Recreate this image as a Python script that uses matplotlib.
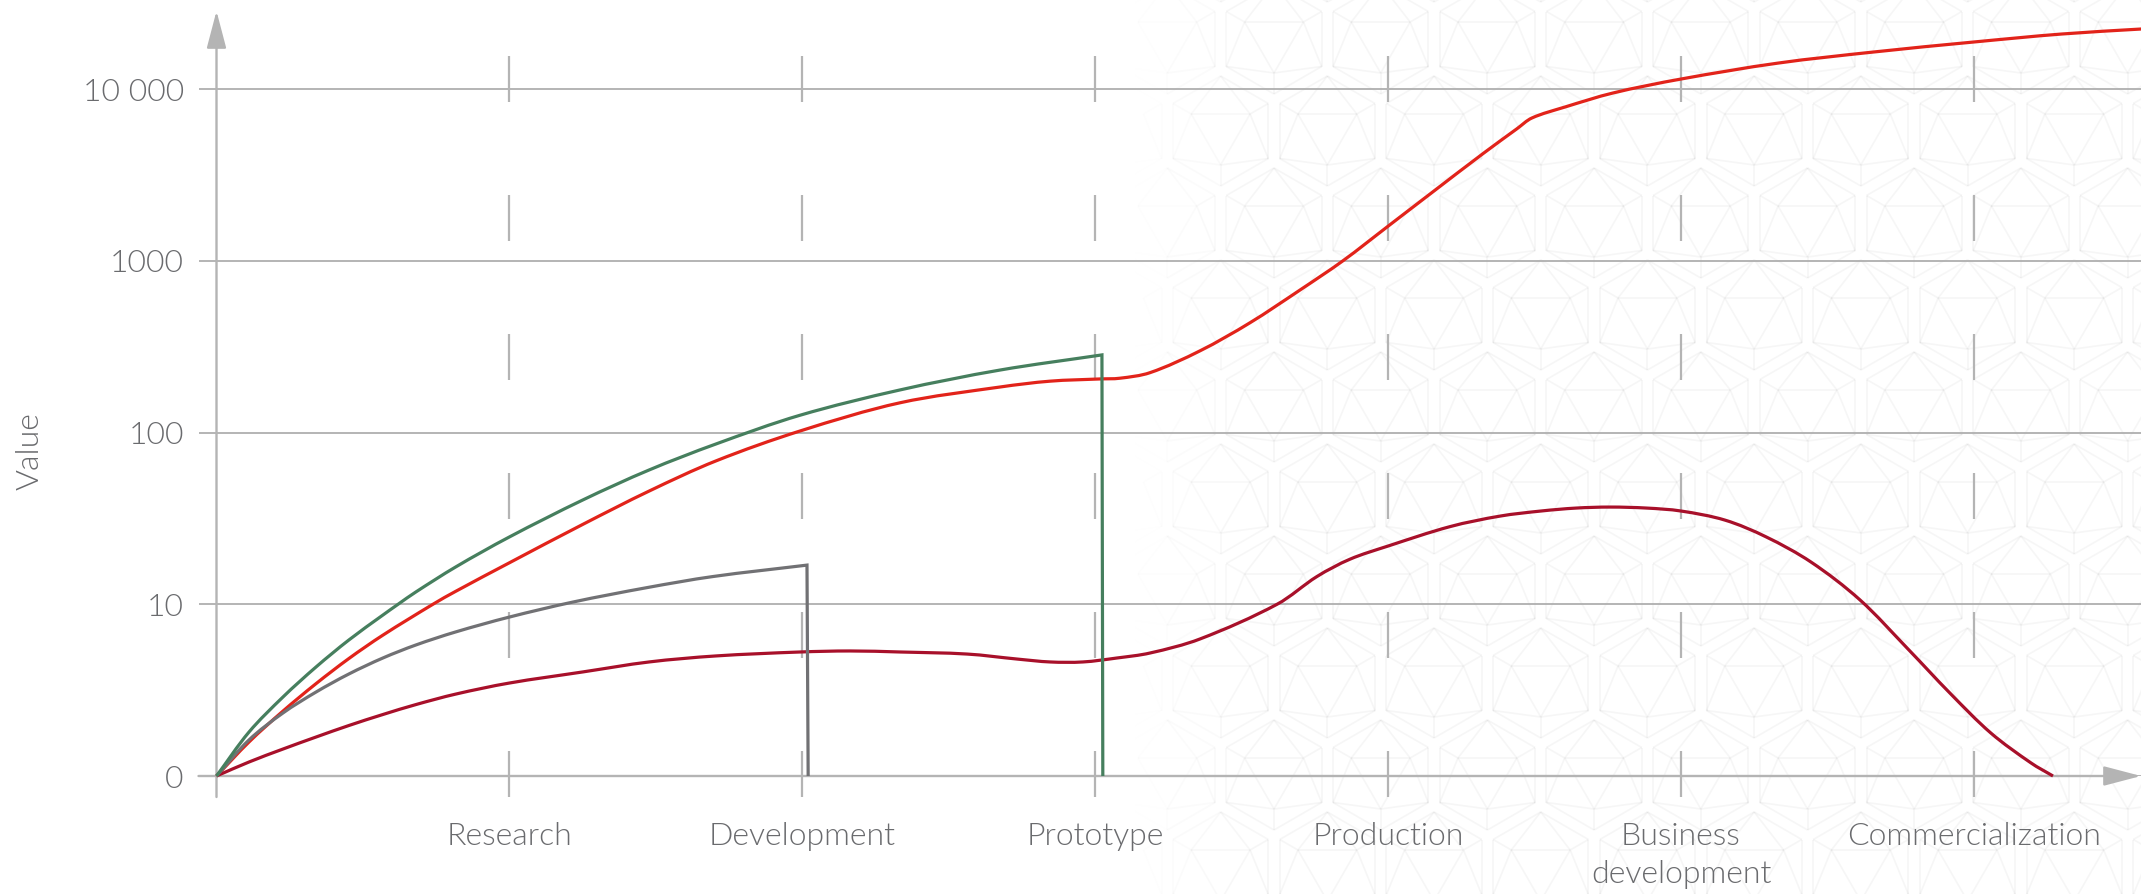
"""Technology readiness curves across development stages (log-like value axis)."""

import numpy as np
import matplotlib

matplotlib.use("Agg")
import matplotlib.pyplot as plt
from matplotlib import font_manager as fm
from matplotlib.collections import LineCollection
from matplotlib.patches import Rectangle, PathPatch
from matplotlib.path import Path
from matplotlib.ticker import NullLocator

# ---- data -------------------------------------------------------------
stages = ["Research", "Development", "Prototype", "Production",
          "Business\ndevelopment", "Commercialization"]
stage_pos = [1, 2, 3, 4, 5, 6]

y_ticks = [0, 10, 100, 1000, 10000]
y_tick_labels = ["0", "10", "100", "1000", "10 000"]

green_x = [0, 0.111, 0.227, 0.340, 0.452, 0.568, 0.620, 0.681, 0.817, 0.999,
           1.251, 1.477, 1.705, 1.992, 2.334, 2.675, 3.023, 3.026]
green_y = [0, 2.56, 4.60, 6.35, 7.92, 9.37, 10.0, 11.8, 16.5, 24.6,
           40.5, 60.5, 85.7, 126, 177, 231, 283, 0]

red_x = [0, 0.111, 0.227, 0.340, 0.452, 0.568, 0.739, 0.817, 0.999,
         1.251, 1.477, 1.705, 1.992, 2.334, 2.675, 2.846, 3.016, 3.084,
         3.187, 3.358, 3.528, 3.699, 3.846, 3.999, 4.153, 4.324, 4.440,
         4.491, 4.604, 4.768, 5.000, 5.331, 5.656, 6.000, 6.300, 6.571]
red_y = [0, 1.98, 3.78, 5.38, 6.84, 8.20, 10.0, 11.9, 17.4,
         29.2, 45.6, 68.3, 102, 149, 184, 199, 205, 207,
         223, 299, 435, 675, 1000, 1585, 2520, 4205, 5870,
         6780, 7855, 9480, 11430, 14150, 16410, 18780, 20900, 22350]

grey_x = [0, 0.111, 0.227, 0.340, 0.452, 0.568, 0.681, 0.817, 0.999,
          1.217, 1.470, 1.695, 2.016, 2.020]
grey_y = [0, 2.10, 3.67, 4.89, 5.94, 6.87, 7.63, 8.39, 9.25,
          10.3, 12.5, 14.5, 16.9, 0]

dred_x = [0, 0.111, 0.227, 0.340, 0.452, 0.568, 0.681, 0.817, 0.999,
          1.251, 1.477, 1.705, 1.992, 2.163, 2.334, 2.563, 2.733, 2.846,
          2.958, 3.074, 3.187, 3.358, 3.621, 3.757, 3.870, 3.999,
          4.211, 4.382, 4.522, 4.641, 4.758, 4.884, 5.000, 5.150, 5.290,
          5.444, 5.611, 5.778, 5.918, 6.058, 6.195, 6.270]
dred_y = [0, 0.815, 1.57, 2.27, 2.94, 3.58, 4.16, 4.77, 5.41,
          6.06, 6.64, 6.99, 7.22, 7.28, 7.22, 7.10, 6.81, 6.64,
          6.64, 6.87, 7.16, 7.98, 10.0, 14.5, 18.3, 21.8,
          28.3, 32.6, 34.9, 36.3, 36.8, 36.3, 34.9, 30.9, 24.7,
          17.6, 10.6, 7.34, 4.83, 2.50, 0.76, 0]

# ---- layout (pixels) ----------------------------------------------------
W, H = 2141, 894
X0, Y0 = 216.5, 776        # origin of the plot
STAGE_PX = 292.9           # pixels per stage
DECADE_PX = 171.75         # pixels per decade
TOP_PX = 11                # tip of the y arrow

grid_color = "#b4b4b4"
text_color = "#6a6b6e"


def light_family():
    """Find an installed light (300) cut, else fall back to regular Lato."""
    for fam in ("Lato", "Roboto", "Open Sans", "Inter"):
        for f in fm.fontManager.ttflist:
            w = f.weight if isinstance(f.weight, (int, float)) else fm.weight_dict.get(f.weight, 400)
            if f.name.startswith(fam) and int(w) == 300 and f.style == "normal":
                return f.name, 300
    return "Lato", 400


fam, weight = light_family()
plt.rcParams["font.family"] = [fam, "DejaVu Sans"]
plt.rcParams["font.weight"] = weight
plt.rcParams["axes.labelweight"] = weight
plt.rcParams["lines.scale_dashes"] = False

fig = plt.figure(figsize=(W / 100, H / 100), dpi=100)

# faint geometric wallpaper on the right
bg = fig.add_axes([0, 0, 1, 1], zorder=0)
bg.set_xlim(0, W)
bg.set_ylim(H, 0)
bg.axis("off")


def icosa(cx, cy, r):
    ang = np.deg2rad([90, 30, -30, -90, -150, 150])
    hx, hy = cx + r * np.cos(ang), cy - r * np.sin(ang)
    segs = [[(hx[i], hy[i]), (hx[(i + 1) % 6], hy[(i + 1) % 6])] for i in range(6)]
    tri = [1, 5, 3]
    ri = r * 0.618
    tx, ty = cx + ri * np.cos(ang[tri]), cy - ri * np.sin(ang[tri])
    for k in range(3):
        segs.append([(tx[k], ty[k]), (tx[(k + 1) % 3], ty[(k + 1) % 3])])
        for j in (tri[k] - 1, tri[k], tri[k] + 1):
            segs.append([(tx[k], ty[k]), (hx[j % 6], hy[j % 6])])
    return segs


segs = []
for j in range(-1, 11):
    off = 0 if j % 2 == 0 else -53.35
    for k in range(-2, 10):
        cx = 1274 + off + 106.7 * k
        if cx + 60 < 1135:
            continue
        segs += icosa(cx, 39 + 92 * j, 55)
mid = np.array([(s[0][0] + s[1][0]) / 2 for s in segs])
alpha = np.clip((mid - 1135) / 120, 0, 1) * 0.12
cols = [(0.72, 0.72, 0.72, a) for a in alpha]
lc = LineCollection(segs, colors=cols, linewidths=1.2)
bg.add_collection(lc)
lc.set_clip_path(Rectangle((1135, 0), W - 1135, H, transform=bg.transData))

# ---- main axes ----------------------------------------------------------
ax = fig.add_axes([X0 / W, (H - Y0) / H, (W - X0) / W, (Y0 - TOP_PX) / H], zorder=1)
ax.set_facecolor("none")
ax.set_yscale("symlog", linthresh=10, linscale=0.9)
ax.set_xlim(0, (W - X0) / STAGE_PX)
ax.set_ylim(0, 10 ** ((Y0 - TOP_PX) / DECADE_PX))
for sp in ax.spines.values():
    sp.set_visible(False)

ax.set_yticks(y_ticks, y_tick_labels)
ax.yaxis.set_minor_locator(NullLocator())
ax.yaxis.grid(True, color=grid_color, lw=1.4)
ax.set_axisbelow(True)
ax.tick_params(axis="y", length=13, width=1.4, color=grid_color, pad=10.5,
               labelsize=23, labelcolor=text_color)
ax.set_xticks(stage_pos, stages)
ax.tick_params(axis="x", length=0, pad=33, labelsize=23, labelcolor=text_color)
for lab in ax.get_xticklabels():
    lab.set_linespacing(1.38)

ax.set_ylabel("Value", fontsize=23, color=text_color, va="center")
ax.yaxis.set_label_coords((30 - X0) / (W - X0), (Y0 - 451) / (Y0 - TOP_PX))

# dashed stage markers
ax.vlines(stage_pos, -21 / (Y0 - TOP_PX), (Y0 - 56) / (Y0 - TOP_PX),
          transform=ax.get_xaxis_transform(), colors=grid_color, lw=1.6,
          linestyles=[(0, (46 * 0.72, 93 * 0.72))], clip_on=False, zorder=1.5)

# axes with arrow heads
arrow_kw = dict(arrowstyle="-|>,head_length=1.6,head_width=0.42", color=grid_color,
                lw=1.7, shrinkA=0, shrinkB=0, mutation_scale=14.4)
ax.annotate("", xy=(0, 1.0), xytext=(0, -21 / (Y0 - TOP_PX)),
            xycoords=ax.get_xaxis_transform(), arrowprops=arrow_kw,
            annotation_clip=False)
ax.annotate("", xy=((W - X0) / STAGE_PX, 0), xytext=(-18 / STAGE_PX, 0),
            xycoords="data", arrowprops=arrow_kw, annotation_clip=False)


def spline(ax, xs, ys, breaks=(), **kw):
    """Smooth line through the points (like a spline series), sharp at breaks."""
    P = ax.transData.transform(np.column_stack([xs, ys]))
    n = len(P)
    d = np.hypot(*np.diff(P, axis=0).T)

    def tangent(i, k):
        # tangent at point i for segment k
        if i == 0 or i == n - 1 or i in breaks:
            return (P[k + 1] - P[k]) / d[k]
        return (P[i + 1] - P[i - 1]) / (d[i - 1] + d[i])

    verts, codes = [P[0]], [Path.MOVETO]
    for k in range(n - 1):
        c1 = P[k] + tangent(k, k) * d[k] / 3
        c2 = P[k + 1] - tangent(k + 1, k) * d[k] / 3
        verts += [c1, c2, P[k + 1]]
        codes += [Path.CURVE4] * 3
    verts = ax.transData.inverted().transform(np.array(verts))
    patch = PathPatch(Path(verts, codes), fill=False, transform=ax.transData,
                      clip_on=False, **kw)
    ax.add_patch(patch)
    return patch


lw = 2.3
spline(ax, red_x, red_y, edgecolor="#e2231a", lw=lw, zorder=3)
spline(ax, dred_x, dred_y, edgecolor="#a8102a", lw=lw, zorder=4)
spline(ax, grey_x, grey_y, breaks=(len(grey_x) - 2,), edgecolor="#717174",
       lw=lw, zorder=5)
spline(ax, green_x, green_y, breaks=(len(green_x) - 2,), edgecolor="#467f5e",
       lw=lw, zorder=6)

fig.savefig("out.png", dpi=100)
